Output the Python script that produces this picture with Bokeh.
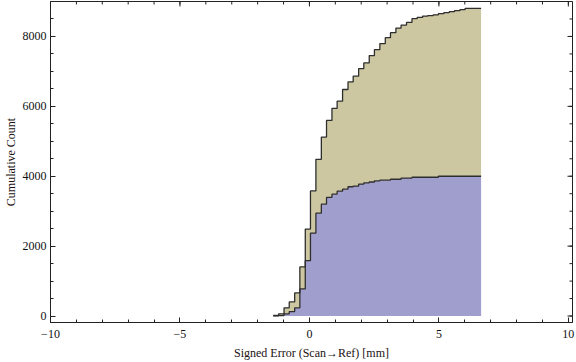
import math
from bokeh.plotting import figure
from bokeh.models import Range1d, FixedTicker, ColumnDataSource
from bokeh.embed import file_html
from bokeh.resources import INLINE

# Bin edges (mm): 39 bins from -1.4 to 6.63
bin_edges = [-1.40, -1.19, -0.98, -0.78, -0.57, -0.37, -0.16, 0.04, 0.25, 0.46,
             0.66, 0.87, 1.07, 1.28, 1.49, 1.69, 1.90, 2.10, 2.31, 2.51,
             2.72, 2.93, 3.13, 3.34, 3.54, 3.75, 3.96, 4.16, 4.37, 4.57,
             4.78, 4.98, 5.19, 5.40, 5.60, 5.81, 6.01, 6.22, 6.42, 6.63]

# Cumulative counts per bin, lower (blue) series
cum_blue = [5, 14, 63, 128, 234, 776, 1583, 2374, 2944, 3201,
            3395, 3486, 3572, 3629, 3700, 3720, 3776, 3812, 3835, 3870,
            3888, 3888, 3914, 3914, 3947, 3947, 3971, 3971, 3971, 3971,
            3971, 4000, 4000, 4000, 4000, 4000, 4000, 4000, 4000]

# Cumulative counts per bin, upper (khaki) series, stacked on blue
cum_khaki = [10, 49, 171, 277, 428, 628, 905, 1207, 1541, 1920,
             2203, 2454, 2576, 2853, 2999, 3142, 3305, 3429, 3617, 3753,
             3907, 4078, 4194, 4326, 4378, 4455, 4537, 4574, 4611, 4625,
             4648, 4652, 4680, 4708, 4737, 4765, 4802, 4802, 4802]

x_major = [-10, -5, 0, 5, 10]
x_minor = list(range(-10, 11))
y_major = [0, 2000, 4000, 6000, 8000]
y_minor = list(range(0, 9001, 500))
x_labels = {-10: "\u221210", -5: "\u22125"}

X0, X1 = -10, 10.16
Y0, Y1 = -185, 9000

blue_top = cum_blue + [cum_blue[-1]]
stack_top = [b + k for b, k in zip(cum_blue, cum_khaki)]
stack_top = stack_top + [stack_top[-1]]
zeros = [0] * len(bin_edges)

src = ColumnDataSource(dict(x=bin_edges, base=zeros, blue=blue_top, top=stack_top))

FONT = "Liberation Serif"
FRAME = "#222222"
LINE = "#2e2e2e"

p = figure(width=576, height=362, output_backend="svg", toolbar_location=None,
           x_range=Range1d(X0, X1), y_range=Range1d(Y0, Y1),
           min_border_left=48, min_border_right=4, min_border_top=1, min_border_bottom=40,
           x_axis_label="Signed Error (Scan\u2192Ref) [mm]", y_axis_label="Cumulative Count")
p.grid.visible = False
p.background_fill_color = "white"
p.border_fill_color = "white"
p.outline_line_color = FRAME
p.outline_line_width = 1

p.varea_step(x="x", y1="base", y2="blue", step_mode="after", source=src,
             fill_color="#A09ECC")
p.varea_step(x="x", y1="blue", y2="top", step_mode="after", source=src,
             fill_color="#CCC7A1")
p.step(x="x", y="blue", mode="after", source=src, line_color=LINE, line_width=1.3)
p.step(x="x", y="top", mode="after", source=src, line_color=LINE, line_width=1.3)

# frame ticks on the top and right sides (inward), drawn as screen-length rays
p.ray(x=x_major, y=[Y1] * len(x_major), length=5, length_units="screen",
      angle=-math.pi / 2, line_color=FRAME, line_width=1)
p.ray(x=x_minor, y=[Y1] * len(x_minor), length=3, length_units="screen",
      angle=-math.pi / 2, line_color=FRAME, line_width=1)
p.ray(x=[X1] * len(y_major), y=y_major, length=5, length_units="screen",
      angle=math.pi, line_color=FRAME, line_width=1)
p.ray(x=[X1] * len(y_minor), y=y_minor, length=3, length_units="screen",
      angle=math.pi, line_color=FRAME, line_width=1)

def style(ax, ticks, minor):
    ax.ticker = FixedTicker(ticks=ticks, minor_ticks=minor)
    ax.axis_line_color = FRAME
    ax.major_tick_line_color = FRAME
    ax.minor_tick_line_color = FRAME
    ax.major_tick_in = 5
    ax.major_tick_out = 0
    ax.minor_tick_in = 3
    ax.minor_tick_out = 0
    ax.major_label_text_font = FONT
    ax.major_label_text_color = "#111111"
    ax.major_label_text_font_size = "12px"
    ax.axis_label_text_font = FONT
    ax.axis_label_text_font_style = "normal"
    ax.axis_label_text_color = "#221111"
    ax.axis_label_text_font_size = "12px"

style(p.xaxis[0], x_major, x_minor)
style(p.yaxis[0], y_major, y_minor)
p.xaxis[0].major_label_overrides = x_labels
p.xaxis[0].major_label_standoff = 7
p.xaxis[0].axis_label_standoff = 5
p.yaxis[0].major_label_standoff = 4
p.yaxis[0].axis_label_standoff = 2

open("out.html", "w").write(file_html(p, INLINE))
